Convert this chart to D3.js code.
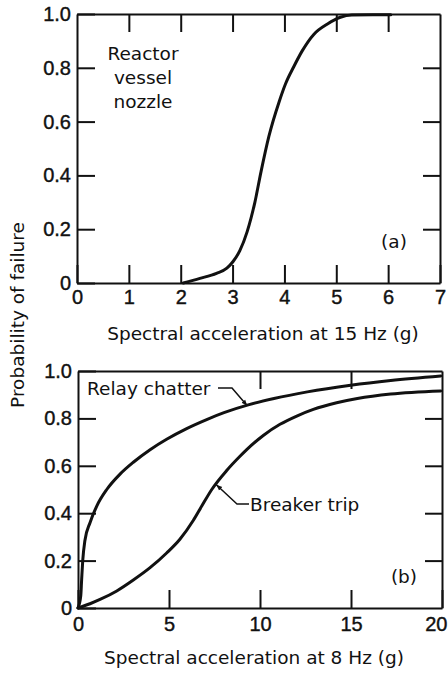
<!DOCTYPE html>
<html>
<head>
<meta charset="utf-8">
<script src="https://cdn.jsdelivr.net/npm/d3@7"></script>
<style>
  body { margin: 0; background: #fff; }
  svg { display: block; }
  .tick text { font-family: "Liberation Sans", Arial, sans-serif; font-size: 20px; fill: #111; stroke: #111; stroke-width: 0.4px; }
  .lbl { font-family: "DejaVu Sans", sans-serif; font-size: 18.5px; fill: #111; }
</style>
</head>
<body>
<script>
// panel (a): reactor vessel nozzle, 15 Hz
const xTicksA = [0, 1, 2, 3, 4, 5, 6, 7];
const nozzleX = [2.05, 2.37, 2.69, 2.89, 3.01, 3.14, 3.28, 3.43, 3.55, 3.70, 3.90, 4.02, 4.18, 4.34, 4.57, 4.83, 5.08, 5.3, 5.7, 6.05];
const nozzleP = [0, 0.017, 0.036, 0.055, 0.08, 0.12, 0.19, 0.30, 0.415, 0.545, 0.675, 0.74, 0.804, 0.862, 0.925, 0.963, 0.988, 0.996, 0.997, 0.997];

// panel (b): relay chatter and breaker trip, 8 Hz
const xTicksB = [0, 5, 10, 15, 20];
const relayX = [0, 0.15, 0.20, 0.26, 0.38, 0.66, 1.03, 1.58, 2.31, 3.04, 3.96, 4.87, 5.97, 7.07, 8.02, 9.40, 10.77, 12.60, 14.98, 17.18, 19.93];
const relayP = [0, 0.05, 0.12, 0.20, 0.285, 0.36, 0.43, 0.50, 0.565, 0.615, 0.668, 0.712, 0.757, 0.795, 0.824, 0.858, 0.884, 0.912, 0.940, 0.960, 0.979];
const breakerX = [0, 0.66, 1.21, 2.13, 3.04, 3.96, 4.87, 5.60, 6.34, 6.80, 7.35, 8.17, 8.90, 9.27, 10.18, 11.10, 12.02, 12.93, 14.21, 15.35, 17.18, 19.93];
const breakerP = [0, 0.018, 0.036, 0.072, 0.118, 0.17, 0.232, 0.29, 0.37, 0.43, 0.50, 0.58, 0.64, 0.668, 0.728, 0.775, 0.81, 0.838, 0.866, 0.884, 0.903, 0.916];

const yTicks = [0, 0.2, 0.4, 0.6, 0.8, 1.0];
const yInner = [0.2, 0.4, 0.6, 0.8];

const svg = d3.select("body").append("svg")
    .attr("width", 448)
    .attr("height", 677);

svg.append("defs").append("marker")
    .attr("id", "arr")
    .attr("viewBox", "0 0 10 10")
    .attr("refX", 10).attr("refY", 5)
    .attr("markerWidth", 4).attr("markerHeight", 4)
    .attr("orient", "auto")
    .append("path")
    .attr("d", "M0,1 L10,5 L0,9 Z")
    .attr("fill", "#111");

var fmt = function (d) { return d === 0 ? "0" : d.toFixed(1); };

function drawPanel(o) {
    var x = d3.scaleLinear().domain(o.xDomain).range([o.left, o.right]);
    var y = d3.scaleLinear().domain([0, 1]).range([o.bottom, o.top]);
    var g = svg.append("g");

    g.append("g")
        .attr("transform", "translate(" + o.left + ",0)")
        .call(d3.axisLeft(y).tickValues(yTicks).tickSize(-18).tickSizeOuter(0).tickPadding(6).tickFormat(fmt));
    var xa = g.append("g")
        .attr("transform", "translate(0," + o.bottom + ")")
        .call(d3.axisBottom(x).tickValues(o.xTicks).tickSize(-18).tickSizeOuter(0).tickPadding(o.xPad).tickFormat(d3.format("d")));
    g.append("g")
        .attr("transform", "translate(" + o.right + ",0)")
        .call(d3.axisRight(y).tickValues(yInner).tickSize(-17).tickSizeOuter(0).tickFormat(""));
    g.append("g")
        .attr("transform", "translate(0," + o.top + ")")
        .call(d3.axisTop(x).tickValues(o.topTicks).tickSize(-18).tickSizeOuter(0).tickFormat(""));

    g.selectAll(".domain").attr("stroke", "#111").attr("stroke-width", 2);
    g.selectAll(".tick line").attr("stroke", "#111").attr("stroke-width", 2);

    // last label sits at the page edge, keep it inside
    xa.selectAll(".tick text")
        .filter(function (d) { return d === o.xDomain[1] && o.edgeLabel; })
        .attr("text-anchor", "end")
        .attr("dx", 5);

    var line = d3.line()
        .x(function (d) { return x(d[0]); })
        .y(function (d) { return y(d[1]); })
        .curve(d3.curveMonotoneX);

    o.series.forEach(function (s) {
        g.append("path")
            .attr("d", line(d3.zip(s[0], s[1])))
            .attr("fill", "none")
            .attr("stroke", "#111")
            .attr("stroke-width", 3)
            .attr("stroke-linecap", "round");
    });

    g.append("text")
        .attr("class", "lbl")
        .attr("x", o.titleX)
        .attr("y", o.titleY)
        .attr("text-anchor", "middle")
        .text(o.title);

    return { g: g, x: x, y: y };
}

var a = drawPanel({
    left: 77, right: 440, top: 14, bottom: 283,
    xDomain: [0, 7], xTicks: xTicksA, topTicks: [1, 2, 3, 4, 5, 6], xPad: 7,
    series: [[nozzleX, nozzleP]],
    title: "Spectral acceleration at 15 Hz (g)", titleX: 263, titleY: 340
});

var b = drawPanel({
    left: 78, right: 442, top: 371, bottom: 608,
    xDomain: [0, 20], xTicks: xTicksB, topTicks: [10, 15], xPad: 9, edgeLabel: true,
    series: [[relayX, relayP], [breakerX, breakerP]],
    title: "Spectral acceleration at 8 Hz (g)", titleX: 254, titleY: 664
});

// panel (a) labels
var nozzle = a.g.append("text").attr("class", "lbl").attr("text-anchor", "middle");
["Reactor", "vessel", "nozzle"].forEach(function (t, i) {
    nozzle.append("tspan").attr("x", 143).attr("y", 60 + i * 24).text(t);
});
a.g.append("text").attr("class", "lbl").attr("x", 394).attr("y", 248)
    .attr("text-anchor", "middle").text("(a)");

// panel (b) labels and leaders
b.g.append("text").attr("class", "lbl").attr("x", 87).attr("y", 395).text("Relay chatter");
b.g.append("path")
    .attr("d", d3.line()([[218, 388], [232, 388], [b.x(9.3), b.y(0.853)]]))
    .attr("fill", "none").attr("stroke", "#111").attr("stroke-width", 1.5)
    .attr("marker-end", "url(#arr)");

b.g.append("text").attr("class", "lbl").attr("x", 250).attr("y", 511).text("Breaker trip");
b.g.append("path")
    .attr("d", d3.line()([[249, 504], [237, 504], [b.x(7.6), b.y(0.52)]]))
    .attr("fill", "none").attr("stroke", "#111").attr("stroke-width", 1.5)
    .attr("marker-end", "url(#arr)");

b.g.append("text").attr("class", "lbl").attr("x", 404).attr("y", 583)
    .attr("text-anchor", "middle").text("(b)");

// shared y title
svg.append("text")
    .attr("class", "lbl")
    .attr("transform", "translate(24,315) rotate(-90)")
    .attr("text-anchor", "middle")
    .text("Probability of failure");
</script>
</body>
</html>
